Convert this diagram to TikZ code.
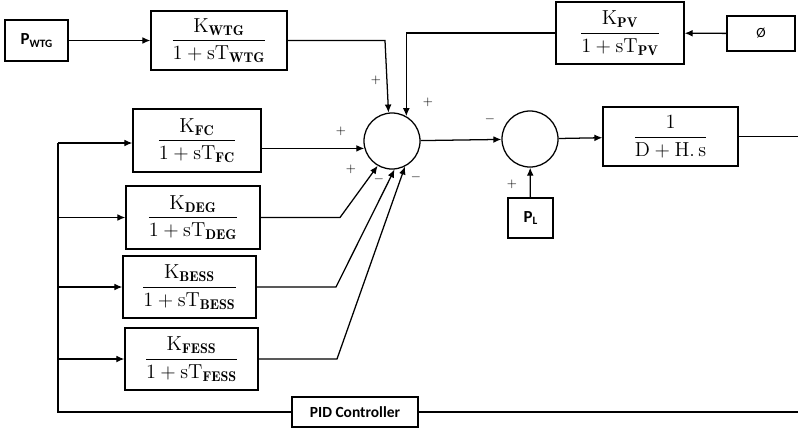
\documentclass[tikz,border=0pt]{standalone}
\usepackage{amsmath}
\usepackage{fontspec}
\newfontfamily\calib{Carlito}
\usetikzlibrary{arrows.meta}

\begin{document}
\begin{tikzpicture}[x=0.025cm,y=-0.025cm,
  block/.style={draw=black,line width=0.9pt,inner sep=0pt,align=center,font=\Large},
  sumnode/.style={shape=circle,draw=black,line width=0.9pt,minimum size=1.4cm,inner sep=0pt},
  arr/.style={-{Latex[length=2mm,width=1.7mm]},line width=0.9pt},
  wire/.style={line width=0.9pt},
  sgn/.style={inner sep=0pt,font=\small}]
  \useasboundingbox (0,0) rectangle (798,430);

  % sources
  \node[block,minimum width=1.575cm,minimum height=1.025cm,font=\large] (pwtg) at (36.5,40.5)
    {\calib\bfseries P\raisebox{-0.3ex}{\footnotesize WTG}};
  \node[block,minimum width=1.7cm,minimum height=0.875cm,font=\normalsize] (phi) at (761,33.5) {\calib Ø};
  \node[block,minimum width=1.125cm,minimum height=1cm,font=\large] (pl) at (530.5,218)
    {\calib\bfseries P\raisebox{-0.3ex}{\footnotesize L}};

  % transfer blocks
  \node[block,minimum width=3.4cm,minimum height=1.475cm] (wtg) at (219,40.5)
    {$\dfrac{\mathrm{K}_{\mathbf{WTG}}}{1+\mathrm{sT}_{\mathbf{WTG}}}$};
  \node[block,minimum width=3.2cm,minimum height=1.55cm] (pv) at (620,33)
    {$\dfrac{\mathrm{K}_{\mathbf{PV}}}{1+\mathrm{sT}_{\mathbf{PV}}}$};
  \node[block,minimum width=3.2cm,minimum height=1.575cm] (fc) at (197,140.5)
    {$\dfrac{\mathrm{K}_{\mathbf{FC}}}{1+\mathrm{sT}_{\mathbf{FC}}}$};
  \node[block,minimum width=3.35cm,minimum height=1.575cm] (deg) at (193,217.5)
    {$\dfrac{\mathrm{K}_{\mathbf{DEG}}}{1+\mathrm{sT}_{\mathbf{DEG}}}$};
  \node[block,minimum width=3.325cm,minimum height=1.55cm] (bess) at (189.5,287)
    {$\dfrac{\mathrm{K}_{\mathbf{BESS}}}{1+\mathrm{sT}_{\mathbf{BESS}}}$};
  \node[block,minimum width=3.325cm,minimum height=1.55cm] (fess) at (191.5,359)
    {$\dfrac{\mathrm{K}_{\mathbf{FESS}}}{1+\mathrm{sT}_{\mathbf{FESS}}}$};
  \node[block,minimum width=3.375cm,minimum height=1.475cm] (plant) at (670.5,136.5)
    {$\dfrac{1}{\mathrm{D}+\mathrm{H}.\,\mathrm{s}}$};
  \node[block,minimum width=3.15cm,minimum height=0.75cm,font=\calib\bfseries\fontsize{11}{13}\selectfont] (pid) at (355,412)
    {PID Controller};

  % summing points
  \node[sumnode] (sum1) at (392,141) {};
  \node[sumnode] (sum2) at (530,139) {};

  % helper points
  \coordinate (wtgbend) at (385,40.5);
  \coordinate (degbend) at (340,217.5);
  \coordinate (bessbend) at (336,287);
  \coordinate (fessbend) at (337,359);
  \coordinate (busT) at (58,143);
  \coordinate (busB) at (58,412);
  \coordinate (outR) at (798,136.5);
  \coordinate (outB) at (798,412);

  % connections
  \draw[arr] (pwtg) -- (wtg);
  \draw[arr] (wtg.east) -- (wtgbend) -- (sum1.97);
  \draw[arr] (phi) -- (pv);
  \draw[arr] (pv.west) -| (sum1.60);
  \draw[arr] (fc.east |- sum1.195) -- (sum1.195);
  \draw[arr] (deg.east) -- (degbend) -- (sum1.240);
  \draw[arr] (bess.east) -- (bessbend) -- (sum1.275);
  \draw[arr] (fess.east) -- (fessbend) -- (sum1.297);
  \draw[arr] (sum1) -- (sum2);
  \draw[arr] (sum2) -- (plant);
  \draw[arr] (pl) -- (sum2);
  \draw[wire] (plant.east) -- (outR);

  % feedback through the PID
  \draw[wire] (busT) -- (busB) -- (pid.west);
  \draw[wire] (pid.east) -- (outB);
  \draw[arr] (busT) -- (busT -| fc.west);
  \draw[arr] (busT |- deg.west) -- (deg.west);
  \draw[arr] (busT |- bess.west) -- (bess.west);
  \draw[arr] (busT |- fess.west) -- (fess.west);

  % signs
  \node[sgn] (s1) at (376,80) {$+$};
  \node[sgn] (s2) at (428,102) {$+$};
  \node[sgn] (s3) at (341,131) {$+$};
  \node[sgn] (s4) at (351,169) {$+$};
  \node[sgn] (s5) at (379,179) {$-$};
  \node[sgn] (s6) at (416,177) {$-$};
  \node[sgn] (s7) at (490,119) {$-$};
  \node[sgn] (s8) at (512,184) {$+$};
\end{tikzpicture}
\end{document}
